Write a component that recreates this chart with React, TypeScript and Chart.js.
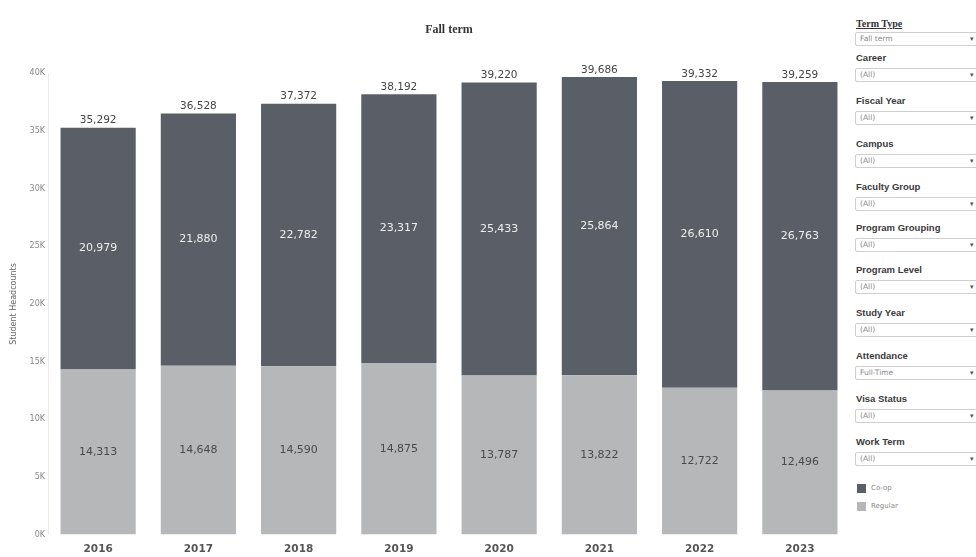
import React, { useEffect, useRef } from "react";
import { Chart, registerables } from "chart.js";

Chart.register(...registerables);

const years = ["2016", "2017", "2018", "2019", "2020", "2021", "2022", "2023"];
const coop = [20979, 21880, 22782, 23317, 25433, 25864, 26610, 26763];
const regular = [14313, 14648, 14590, 14875, 13787, 13822, 12722, 12496];
const totals = [35292, 36528, 37372, 38192, 39220, 39686, 39332, 39259];
const yTicks = [0, 5000, 10000, 15000, 20000, 25000, 30000, 35000, 40000];

const filterLabels = [
  "Career",
  "Fiscal Year",
  "Campus",
  "Faculty Group",
  "Program Grouping",
  "Program Level",
  "Study Year",
  "Attendance",
  "Visa Status",
  "Work Term",
];
const filterValues = ["(All)", "(All)", "(All)", "(All)", "(All)", "(All)", "(All)", "Full-Time", "(All)", "(All)"];
const filterLabelY = [58, 101, 144, 187, 228, 270, 313, 356, 399, 442];

const COOP_COLOR = "#5a5e66";
const REG_COLOR = "#b5b7b9";

const fmt = (v: number) => v.toLocaleString("en-US");

const labelPlugin = {
  id: "segLabels",
  afterDatasetsDraw(chart: any) {
    const ctx = chart.ctx;
    ctx.save();
    ctx.textAlign = "center";
    ctx.textBaseline = "middle";
    const metaReg = chart.getDatasetMeta(0);
    const metaCoop = chart.getDatasetMeta(1);
    ctx.font = "11px 'DejaVu Sans'";
    metaReg.data.forEach((el: any, i: number) => {
      ctx.fillStyle = "#4a4a4a";
      ctx.fillText(fmt(regular[i]), el.x, (el.y + el.base) / 2);
    });
    metaCoop.data.forEach((el: any, i: number) => {
      ctx.fillStyle = "#eeeeee";
      ctx.fillText(fmt(coop[i]), el.x, (el.y + el.base) / 2);
    });
    ctx.font = "10.5px 'DejaVu Sans'";
    ctx.fillStyle = "#444";
    metaCoop.data.forEach((el: any, i: number) => {
      ctx.fillText(fmt(totals[i]), el.x, el.y - 7);
    });
    ctx.restore();
  },
};

function Dropdown({ top, text }: { top: number; text: string }) {
  return (
    <div
      style={{
        position: "absolute",
        left: 855,
        top,
        width: 130,
        height: 14,
        border: "1px solid #cfcfcf",
        borderRadius: 2,
        boxSizing: "border-box",
        background: "#fff",
        fontFamily: "'DejaVu Sans', sans-serif",
        fontSize: 7.5,
        color: "#8a8a8a",
        lineHeight: "12px",
        paddingLeft: 4,
      }}
    >
      {text}
      <span style={{ position: "absolute", left: 114, top: 0, fontSize: 7, color: "#555" }}>▾</span>
    </div>
  );
}

export default function App() {
  const ref = useRef<HTMLCanvasElement | null>(null);
  useEffect(() => {
    if (!ref.current) return;
    const chart = new Chart(ref.current, {
      type: "bar",
      data: {
        labels: years,
        datasets: [
          { label: "Regular", data: regular, backgroundColor: REG_COLOR, categoryPercentage: 1, barPercentage: 0.75 },
          { label: "Co-op", data: coop, backgroundColor: COOP_COLOR, categoryPercentage: 1, barPercentage: 0.75 },
        ],
      },
      options: {
        responsive: false,
        animation: false,
        layout: { padding: { top: 0, bottom: 2.5, right: 2, left: 0 } },
        plugins: {
          legend: { display: false },
          tooltip: { enabled: false },
          title: {
            display: true,
            text: "Fall term",
            fullSize: false,
            color: "#333",
            font: { family: "'Liberation Serif'", size: 12, weight: "bold" },
            padding: { top: 23, bottom: 36 },
          },
        },
        scales: {
          x: {
            stacked: true,
            grid: { display: false, drawTicks: false },
            border: { display: false },
            afterFit: (scale: any) => {
              scale.height = 20;
            },
            ticks: {
              color: "#555",
              padding: 8,
              font: { family: "'DejaVu Sans'", size: 10.5, weight: "bold" },
            },
          },
          y: {
            stacked: true,
            min: 0,
            max: 40000,
            afterBuildTicks: (scale: any) => {
              scale.ticks = yTicks.map((v) => ({ value: v }));
            },
            afterFit: (scale: any) => {
              scale.width = 48;
            },
            grid: { display: false, drawTicks: false },
            border: { display: true, color: "#ececec" },
            ticks: {
              color: "#888",
              padding: 3,
              font: { family: "'DejaVu Sans'", size: 8 },
              callback: (v: any) => Number(v) / 1000 + "K",
            },
            title: {
              display: true,
              text: "Student Headcounts",
              color: "#666",
              font: { family: "'DejaVu Sans'", size: 8 },
              padding: { top: 9, bottom: 0 },
            },
          },
        },
      },
      plugins: [labelPlugin],
    } as any);
    return () => chart.destroy();
  }, []);

  return (
    <div style={{ position: "absolute", left: 0, top: 0, width: 976, height: 557, background: "#fff", overflow: "hidden" }}>
      <canvas ref={ref} width={852} height={557} style={{ position: "absolute", left: 0, top: 0, width: 852, height: 557 }} />
      <div
        style={{
          position: "absolute",
          left: 856,
          top: 18,
          fontFamily: "'Liberation Serif', serif",
          fontWeight: "bold",
          fontSize: 10,
          color: "#333",
          textDecoration: "underline",
          lineHeight: "12px",
        }}
      >
        Term Type
      </div>
      <Dropdown top={32} text="Fall term" />
      {filterLabels.map((lab, i) => (
        <React.Fragment key={lab}>
          <div
            style={{
              position: "absolute",
              left: 856,
              top: filterLabelY[i] - 6,
              fontFamily: "'Liberation Sans', sans-serif",
              fontWeight: "bold",
              fontSize: 9.5,
              color: "#3a3a3a",
              lineHeight: "12px",
              whiteSpace: "nowrap",
            }}
          >
            {lab}
          </div>
          <Dropdown top={filterLabelY[i] + 10} text={filterValues[i]} />
        </React.Fragment>
      ))}
      {[
        { name: "Co-op", color: COOP_COLOR, y: 484 },
        { name: "Regular", color: REG_COLOR, y: 502 },
      ].map((it) => (
        <div key={it.name} style={{ position: "absolute", left: 857, top: it.y, height: 10 }}>
          <div style={{ position: "absolute", left: 0, top: 0, width: 9, height: 9, background: it.color }} />
          <div
            style={{
              position: "absolute",
              left: 14,
              top: -1,
              fontFamily: "'DejaVu Sans', sans-serif",
              fontSize: 7,
              color: "#888",
              whiteSpace: "nowrap",
              lineHeight: "11px",
            }}
          >
            {it.name}
          </div>
        </div>
      ))}
    </div>
  );
}
